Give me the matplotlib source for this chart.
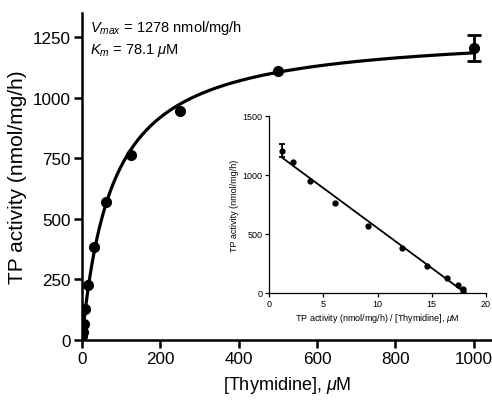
import numpy as np
import matplotlib
matplotlib.use("Agg")
import matplotlib.pyplot as plt

plt.rcParams['font.family'] = ['Liberation Sans', 'DejaVu Sans']
plt.rcParams['mathtext.fontset'] = 'custom'
plt.rcParams['mathtext.rm'] = 'Liberation Sans'
plt.rcParams['mathtext.it'] = 'Liberation Sans:italic'

# thymidine concentrations (uM) and TP activity (nmol/mg/h)
thymidine = [0.977, 1.953, 3.906, 7.8125, 15.625, 31.25, 62.5, 125, 250, 500, 1000]
activity = [17.5, 35, 68, 128, 228, 383, 569, 764, 945, 1109, 1205]
activity_err = [0, 0, 0, 0, 0, 0, 0, 0, 0, 0, 55]
vmax = 1278
km = 78.1

S = np.array(thymidine)
v = np.array(activity)
err = np.array(activity_err)

fig = plt.figure(figsize=(4.92, 4.06), dpi=100)
ax = fig.add_axes([82/492, 65/406, 1 - 82/492, (341-14)/406])

# Michaelis-Menten fit
xs = np.linspace(0, 1000, 400)
ax.plot(xs, vmax*xs/(km + xs), color='black', lw=2.3, zorder=2)
ax.errorbar(S, v, yerr=np.where(err > 0, err, np.nan), fmt='o', color='black',
            ms=7, elinewidth=2, capsize=5, capthick=2, zorder=3)

ax.set_xlim(0, 1047)
ax.set_ylim(0, 1350)
ax.set_xticks([0, 200, 400, 600, 800, 1000])
ax.set_yticks([0, 250, 500, 750, 1000, 1250])
for s in ['top', 'right']:
    ax.spines[s].set_visible(False)
for s in ['left', 'bottom']:
    ax.spines[s].set_linewidth(1.8)
ax.tick_params(width=1.8, length=6, labelsize=12.3, pad=2)
ax.set_xlabel(r'[Thymidine], $\mu$M', fontsize=13, labelpad=6)
ax.set_ylabel('TP activity (nmol/mg/h)', fontsize=15, labelpad=4)

ax.text(0.02, 0.985, r'$V_{max}$ = 1278 nmol/mg/h', transform=ax.transAxes,
        fontsize=10.5, va='top', ha='left')
ax.text(0.02, 0.915, r'$K_m$ = 78.1 $\mu$M', transform=ax.transAxes,
        fontsize=10.5, va='top', ha='left')

# Eadie-Hofstee inset
ratio = v / S
ins = fig.add_axes([269/492, 112/406, (486-269)/492, (294-117)/406])
slope, icpt = np.polyfit(ratio, v, 1)
xl = np.array([ratio.min(), ratio.max()])
ins.plot(xl, icpt + slope*xl, color='black', lw=1.3, zorder=2)
ins.errorbar(ratio, v, yerr=np.where(err > 0, err, np.nan), fmt='o', color='black',
             ms=3.5, elinewidth=1.3, capsize=2.5, capthick=1.3, zorder=3)
ins.set_xlim(0, 20)
ins.set_ylim(0, 1500)
ins.set_xticks([0, 5, 10, 15, 20])
ins.set_yticks([0, 500, 1000, 1500])
for s in ['top', 'right']:
    ins.spines[s].set_visible(False)
for s in ['left', 'bottom']:
    ins.spines[s].set_linewidth(0.9)
ins.tick_params(width=0.9, length=3, labelsize=6.5, pad=1.5)
ins.set_xlabel(r'TP activity (nmol/mg/h) / [Thymidine], $\mu$M', fontsize=6.5, labelpad=2)
ins.set_ylabel('TP activity (nmol/mg/h)', fontsize=6.5, labelpad=3)

plt.savefig('out.png', dpi=100)
